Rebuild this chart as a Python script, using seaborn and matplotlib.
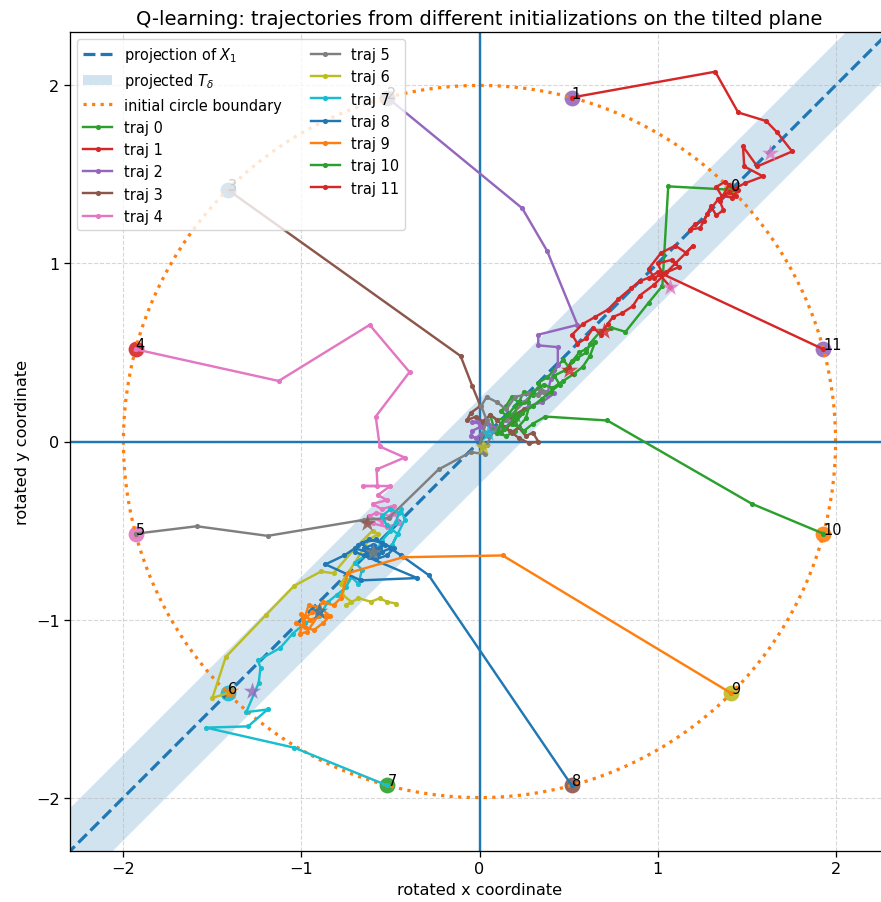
import numpy as np
import matplotlib
matplotlib.use("Agg")
import matplotlib.pyplot as plt
import seaborn as sns

# ---------------- data ----------------
circle_radius = 2.0
band_half_width = 0.17         # perpendicular half-width of projected T_delta
start_angles_deg = [45, 75, 105, 135, 165, 195, 225, 255, 285, 315, 345, 15]

traj0_x = [1.414, 1.06, 1.027, 0.95, 0.82, 0.74, 0.68, 0.62, 0.6, 0.55, 0.5, 0.47, 0.42, 0.38, 0.33, 0.36, 0.3, 0.25,
           0.22, 0.18, 0.15, 0.12, 0.16, 0.1, 0.06, 0.08, 0.12, 0.18, 0.22, 0.28, 0.26, 0.2, 0.15, 0.1]
traj0_y = [1.414, 1.433, 0.873, 0.78, 0.616, 0.64, 0.62, 0.55, 0.5, 0.47, 0.42, 0.46, 0.4, 0.36, 0.33, 0.28, 0.26, 0.28,
           0.22, 0.25, 0.2, 0.17, 0.14, 0.12, 0.15, 0.08, 0.05, 0.1, 0.15, 0.2, 0.13, 0.06, 0.03, 0.05]

traj1_x = [0.518, 1.324, 1.453, 1.61, 1.672, 1.756, 1.56, 1.48, 1.487, 1.593, 1.49, 1.43, 1.38, 1.33, 1.36, 1.42, 1.45,
           1.4, 1.35, 1.37, 1.33, 1.3, 1.26, 1.21, 1.18, 1.24, 1.28, 1.34, 1.4, 1.44]
traj1_y = [1.932, 2.077, 1.848, 1.80, 1.736, 1.629, 1.545, 1.657, 1.545, 1.489, 1.45, 1.42, 1.46, 1.43, 1.38, 1.37, 1.41,
           1.44, 1.35, 1.3, 1.27, 1.32, 1.24, 1.22, 1.19, 1.2, 1.28, 1.36, 1.4, 1.38]

traj2_x = [-0.518, 0.24, 0.38, 0.55, 0.33, 0.33, 0.44, 0.44, 0.4, 0.38, 0.34, 0.42, 0.35, 0.28, 0.2, 0.15, 0.1, 0.05,
           0.0, -0.04, -0.05, -0.02, 0.02, 0.05, 0.0, -0.04, 0.03, 0.07, 0.01]
traj2_y = [1.932, 1.31, 1.07, 0.655, 0.60, 0.54, 0.53, 0.43, 0.35, 0.26, 0.29, 0.27, 0.22, 0.2, 0.15, 0.08, 0.07, 0.1,
           0.08, 0.06, 0.03, 0.02, 0.05, 0.03, 0.1, 0.11, 0.12, 0.06, 0.04]

traj3_x = [-1.414, -0.106, -0.04, 0.005, -0.05, -0.07, -0.02, 0.02, 0.06, 0.1, 0.14, 0.18, 0.22, 0.26, 0.3, 0.33, 0.28,
           0.22, 0.17, 0.12, 0.18, 0.25, 0.2, 0.14]
traj3_y = [1.414, 0.48, 0.31, 0.2, 0.16, 0.12, 0.14, 0.11, 0.15, 0.12, 0.08, 0.05, 0.08, 0.03, 0.05, 0.0, -0.01,
           0.02, 0.06, 0.1, 0.14, 0.18, 0.12, 0.07]

traj4_x = [-1.932, -1.128, -0.617, -0.393, -0.583, -0.56, -0.42, -0.578, -0.573, -0.656, -0.5, -0.57, -0.52, -0.6,
           -0.55, -0.48, -0.5, -0.58, -0.62, -0.55, -0.47, -0.45, -0.52, -0.6, -0.63]
traj4_y = [0.518, 0.34, 0.655, 0.39, 0.14, -0.028, -0.09, -0.157, -0.25, -0.25, -0.25, -0.30, -0.33, -0.35, -0.38,
           -0.36, -0.42, -0.4, -0.42, -0.45, -0.41, -0.46, -0.48, -0.46, -0.46]

traj5_x = [-1.932, -1.588, -1.19, -0.65, -0.51, -0.23, -0.05, 0.03, 0.0, 0.02, 0.04, 0.01, 0.04, 0.1, 0.15, 0.2, 0.28,
           0.33, 0.37, 0.33, 0.25, 0.15, 0.08, 0.04, 0.02]
traj5_y = [-0.518, -0.476, -0.53, -0.44, -0.43, -0.157, -0.06, -0.07, -0.02, 0.05, 0.12, 0.2, 0.25, 0.22, 0.18, 0.25,
           0.27, 0.26, 0.28, 0.3, 0.22, 0.12, 0.06, -0.02, -0.03]

traj6_x = [-1.414, -1.50, -1.425, -1.2, -1.04, -0.89, -0.82, -0.7, -0.6, -0.57, -0.62, -0.7, -0.78, -0.74, -0.77,
           -0.72, -0.75, -0.68, -0.61, -0.56, -0.52, -0.47]
traj6_y = [-1.414, -1.44, -1.21, -0.975, -0.81, -0.73, -0.74, -0.6, -0.5, -0.52, -0.55, -0.68, -0.8, -0.78, -0.86,
           -0.9, -0.92, -0.88, -0.9, -0.88, -0.9, -0.91]

traj7_x = [-0.518, -1.04, -1.537, -1.30, -1.19, -1.31, -1.24, -1.23, -1.245, -1.12, -1.05, -0.98, -0.9, -0.85, -0.8,
           -0.75, -0.72, -0.68, -0.66, -0.7, -0.64, -0.58, -0.55, -0.5, -0.47, -0.45, -0.5, -0.55, -0.52, -0.46,
           -0.49, -0.42, -0.44]
traj7_y = [-1.932, -1.72, -1.607, -1.60, -1.505, -1.52, -1.355, -1.27, -1.23, -1.16, -1.08, -1.02, -0.98, -0.9, -0.86,
           -0.82, -0.76, -0.8, -0.72, -0.68, -0.64, -0.62, -0.56, -0.5, -0.45, -0.4, -0.38, -0.42, -0.47, -0.52,
           -0.58, -0.44, -0.38]

traj8_x = [0.518, -0.286, -0.44, -0.5, -0.55, -0.6, -0.65, -0.62, -0.58, -0.52, -0.48, -0.55, -0.62, -0.68, -0.7,
           -0.65, -0.35, -0.667, -0.865, -0.76, -0.7, -0.63, -0.56, -0.6, -0.66, -0.58, -0.53, -0.6, -0.64, -0.57]
traj8_y = [-1.932, -0.75, -0.64, -0.6, -0.62, -0.58, -0.6, -0.65, -0.66, -0.64, -0.6, -0.57, -0.55, -0.58, -0.62,
           -0.64, -0.767, -0.78, -0.69, -0.64, -0.6, -0.62, -0.6, -0.63, -0.57, -0.55, -0.58, -0.61, -0.6, -0.63]

traj9_x = [1.414, 0.13, -0.43, -0.74, -0.78, -0.82, -0.88, -0.92, -0.87, -0.95, -1.0, -0.98, -1.03, -0.93, -0.88,
           -0.84, -0.9, -0.96, -1.01, -0.97, -0.9, -0.94, -0.99]
traj9_y = [-1.414, -0.64, -0.65, -0.74, -0.88, -0.92, -0.9, -0.95, -0.98, -1.0, -0.97, -1.04, -1.02, -1.06, -1.02,
           -0.98, -0.93, -0.92, -1.08, -1.07, -0.97, -0.96, -1.0]

traj10_x = [1.932, 1.53, 0.718, 0.37, 0.3, 0.25, 0.2, 0.24, 0.3, 0.35, 0.4, 0.45, 0.42, 0.48, 0.52, 0.56, 0.6, 0.65,
            0.62, 0.58, 0.53, 0.47, 0.41, 0.36, 0.3, 0.27, 0.2, 0.16, 0.12, 0.1, 0.14, 0.2]
traj10_y = [-0.518, -0.35, 0.118, 0.14, 0.1, 0.06, 0.1, 0.16, 0.2, 0.24, 0.28, 0.32, 0.37, 0.4, 0.45, 0.5, 0.52, 0.56,
            0.48, 0.42, 0.38, 0.34, 0.3, 0.32, 0.28, 0.22, 0.2, 0.15, 0.1, 0.05, 0.07, 0.13]

traj11_x = [1.932, 1.03, 1.0, 1.08, 1.12, 1.05, 0.98, 0.95, 1.02, 1.1, 1.16, 1.2, 1.1, 0.98, 0.9, 0.86, 0.8, 0.75,
            0.72, 0.68, 0.64, 0.6, 0.55, 0.52, 0.58, 0.65, 0.72, 0.78, 0.85, 0.9, 0.95, 1.0, 1.07]
traj11_y = [0.518, 0.94, 1.0, 1.02, 0.98, 0.95, 0.92, 0.97, 1.06, 1.1, 1.06, 1.1, 1.0, 0.88, 0.82, 0.76, 0.72, 0.7,
            0.66, 0.6, 0.64, 0.58, 0.55, 0.6, 0.66, 0.7, 0.74, 0.8, 0.86, 0.9, 0.92, 0.95, 0.87]

traj_x = [traj0_x, traj1_x, traj2_x, traj3_x, traj4_x, traj5_x, traj6_x, traj7_x, traj8_x, traj9_x, traj10_x, traj11_x]
traj_y = [traj0_y, traj1_y, traj2_y, traj3_y, traj4_y, traj5_y, traj6_y, traj7_y, traj8_y, traj9_y, traj10_y, traj11_y]
traj_labels = [f"traj {i}" for i in range(12)]

# end markers (stars)
end_x = [0.70, 1.63, 0.05, 0.20, -0.63, 0.02, -1.40, -1.28, -0.60, -0.90, 0.50, 1.07]
end_y = [0.62, 1.62, 0.05, 0.15, -0.46, -0.03, -1.40, -1.40, -0.62, -0.95, 0.40, 0.87]

# ---------------- figure ----------------
sc = 1.16
plt.rcParams.update({
    "xtick.labelsize": 10 * sc, "ytick.labelsize": 10 * sc,
    "axes.labelsize": 10 * sc, "axes.titlesize": 12 * sc,
    "axes.linewidth": 0.8 * sc,
    "xtick.major.size": 3.5 * sc, "ytick.major.size": 3.5 * sc,
    "xtick.major.width": 0.8 * sc, "ytick.major.width": 0.8 * sc,
})

pal = sns.color_palette("tab10")
fig = plt.figure(figsize=(8.81, 9.03), dpi=100)
ax = fig.add_axes([70 / 881, 50 / 903, 819 / 881, 821 / 903])

lim = 2.3
line_x = np.array([-2.6, 2.6])
ax.plot(line_x, line_x, linestyle="--", color=pal[0], linewidth=2 * sc, label="projection of $X_1$")
h = band_half_width * np.sqrt(2)
ax.fill_between(line_x, line_x - h, line_x + h, color=pal[0], alpha=0.2, linewidth=0, label=r"projected $T_\delta$")
theta = np.linspace(0, 2 * np.pi, 400)
ax.plot(circle_radius * np.cos(theta), circle_radius * np.sin(theta), linestyle=":", color=pal[1],
        linewidth=2 * sc, label="initial circle boundary")

ax.axhline(0, color=pal[0], linewidth=1.5 * sc)
ax.axvline(0, color=pal[0], linewidth=1.5 * sc)

patch_idx = 1
for i in range(12):
    col = pal[(i + 2) % 10]
    sx = circle_radius * np.cos(np.deg2rad(start_angles_deg[i]))
    sy = circle_radius * np.sin(np.deg2rad(start_angles_deg[i]))
    sns.scatterplot(x=[sx], y=[sy], ax=ax, s=130, color=pal[patch_idx % 10], alpha=0.9, linewidth=0,
                    legend=False, zorder=1.5)
    sns.lineplot(x=traj_x[i], y=traj_y[i], ax=ax, sort=False, estimator=None, color=col, linewidth=1.5 * sc,
                 marker="o", markersize=3.2 * sc, markeredgewidth=0, label=traj_labels[i], zorder=2)
    sns.scatterplot(x=[end_x[i]], y=[end_y[i]], ax=ax, s=170, marker="*", color=pal[(patch_idx + 2) % 10],
                    alpha=0.8, linewidth=0, legend=False, zorder=2.5)
    ax.text(sx, sy, str(i), fontsize=9 * sc, zorder=3)
    patch_idx += 3

ax.set_xlim(-lim, lim)
ax.set_ylim(-lim, lim)
ax.set_aspect("equal", adjustable="box")
ax.set_xticks([-2, -1, 0, 1, 2])
ax.set_yticks([-2, -1, 0, 1, 2])
ax.grid(True, linestyle="--", linewidth=0.8, alpha=0.5)
ax.set_xlabel("rotated x coordinate")
ax.set_ylabel("rotated y coordinate")
ax.set_title("Q-learning: trajectories from different initializations on the tilted plane")
ax.legend(loc="upper left", ncol=2, fontsize=9 * sc)

fig.savefig("out.png", dpi=100)
